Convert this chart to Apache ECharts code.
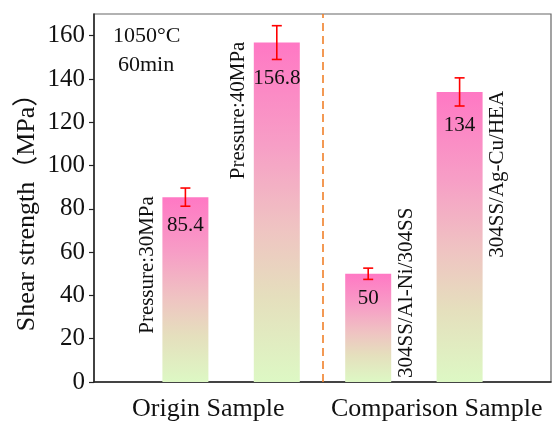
<!DOCTYPE html>
<html>
<head>
<meta charset="utf-8">
<script src="https://cdn.jsdelivr.net/npm/echarts@6/dist/echarts.min.js"></script>
<style>
  html, body { margin: 0; padding: 0; background: #fff; }
  #main { width: 557px; height: 424px; }
</style>
</head>
<body>
<div id="main"></div>
<script>
// data
var positions = [1, 2, 3, 4];
var strength = [85.4, 156.8, 50, 134];
var errors = [4.2, 7.8, 2.6, 6.5];
var notes = ['Pressure:30MPa', 'Pressure:40MPa', '304SS/Al-Ni/304SS', '304SS/Ag-Cu/HEA'];
var groups = ['Origin Sample', 'Comparison Sample'];
var divider = 2.5;
var xMax = 5;

var FONT = '"Liberation Serif", "Noto Sans CJK SC", serif';
var BAR_W = 46;

var barData = [];
var errData = [];
for (var i = 0; i < positions.length; i++) {
  barData.push([positions[i], strength[i]]);
  errData.push([positions[i], strength[i], errors[i], i]);
}

var measureCtx = document.createElement('canvas').getContext('2d');
function textWidth(str, size) {
  measureCtx.font = size + 'px ' + FONT;
  return measureCtx.measureText(str).width;
}

function renderError(params, api) {
  var x = api.value(0), v = api.value(1), e = api.value(2), idx = api.value(3);
  var hi = api.coord([x, v + e]);
  var lo = api.coord([x, v - e]);
  var top = api.coord([x, v]);
  var base = api.coord([x, 0]);
  var red = { stroke: '#ff0000', lineWidth: 1.6 };
  var children = [
    { type: 'line', shape: { x1: hi[0], y1: hi[1], x2: lo[0], y2: lo[1] }, style: red },
    { type: 'line', shape: { x1: hi[0] - 5, y1: hi[1], x2: hi[0] + 5, y2: hi[1] }, style: red },
    { type: 'line', shape: { x1: lo[0] - 5, y1: lo[1], x2: lo[0] + 5, y2: lo[1] }, style: red },
    {
      type: 'text',
      style: {
        x: lo[0], y: lo[1] + 19, text: String(strength[idx]),
        fill: '#111', font: '21px ' + FONT, align: 'center', verticalAlign: 'middle'
      }
    }
  ];
  // rotated note beside the bar: left of the first group, right of the second
  var note = notes[idx];
  var nx = x < divider ? top[0] - BAR_W / 2 - 15 : top[0] + BAR_W / 2 + 15;
  var fits = textWidth(note, 21) + 4 < base[1] - top[1];
  children.push({
    type: 'text',
    x: nx,
    y: fits ? top[1] - 1 : base[1] - 4,
    rotation: Math.PI / 2,
    style: {
      x: 0, y: 0, text: note, fill: '#111', font: '21px ' + FONT,
      align: fits ? 'right' : 'left', verticalAlign: 'middle'
    }
  });
  return { type: 'group', children: children };
}

var chart = echarts.init(document.getElementById('main'));
chart.setOption({
  animation: false,
  grid: {
    left: 94, top: 14, right: 6, bottom: 42,
    show: true, borderColor: '#666', borderWidth: 1.2, backgroundColor: 'transparent'
  },
  xAxis: [{
    type: 'value', min: 0, max: xMax,
    axisLine: { show: true, onZero: false, lineStyle: { color: '#222', width: 1.5 } },
    axisTick: { show: false }, axisLabel: { show: false }, splitLine: { show: false }
  }, {
    // two halves of the x range, one name each
    type: 'category', data: groups, position: 'bottom',
    axisLine: { show: false }, axisTick: { show: false },
    axisLabel: { color: '#111', fontSize: 26, fontFamily: FONT, margin: 14, interval: 0 }
  }],
  yAxis: {
    type: 'value', min: 0, max: 170, interval: 20,
    axisLine: { show: true, lineStyle: { color: '#222', width: 1.5 } },
    axisTick: { show: true, inside: false, length: 5, lineStyle: { color: '#222', width: 1.2 } },
    axisLabel: { color: '#111', fontSize: 25, fontFamily: FONT, margin: 9, showMaxLabel: false },
    splitLine: { show: false }
  },
  graphic: [{
    type: 'text', left: 113, top: 25,
    style: { text: '1050°C', fill: '#111', font: '22px ' + FONT }
  }, {
    type: 'text', left: 118, top: 54,
    style: { text: '60min', fill: '#111', font: '22px ' + FONT }
  }, {
    type: 'text', x: 27, y: 206, rotation: Math.PI / 2,
    style: {
      x: 0, y: 0, text: 'Shear strength（MPa）', fill: '#111',
      font: '26px ' + FONT, align: 'center', verticalAlign: 'middle'
    }
  }],
  series: [{
    type: 'bar',
    xAxisIndex: 0,
    data: barData,
    barWidth: BAR_W,
    itemStyle: {
      color: new echarts.graphic.LinearGradient(0, 0, 0, 1, [
        { offset: 0, color: '#ff78c4' },
        { offset: 0.3, color: '#f79ec6' },
        { offset: 0.55, color: '#efc4c2' },
        { offset: 0.75, color: '#e5dfbd' },
        { offset: 1, color: '#ddf8c4' }
      ])
    },
    markLine: {
      silent: true, symbol: 'none', label: { show: false },
      lineStyle: { color: '#f0802a', type: [8, 5], width: 1.6 },
      data: [{ xAxis: divider }]
    }
  }, {
    type: 'custom',
    xAxisIndex: 0,
    renderItem: renderError,
    data: errData,
    z: 5
  }]
});
</script>
</body>
</html>
